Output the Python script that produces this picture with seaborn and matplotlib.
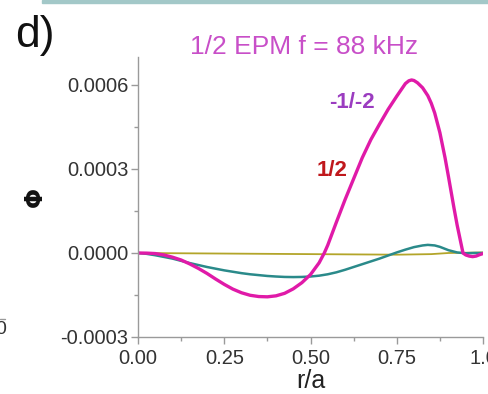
import numpy as np
import pandas as pd
import matplotlib
matplotlib.use("Agg")
import matplotlib.pyplot as plt
from matplotlib.ticker import MultipleLocator, FormatStrFormatter
import seaborn as sns

# ---- data (Phi in units of 1e-4) ----
r_mag = [0.0, 0.025, 0.05, 0.075, 0.1, 0.125, 0.15, 0.175, 0.2, 0.225, 0.25, 0.275,
         0.3, 0.325, 0.35, 0.375, 0.4, 0.425, 0.45, 0.475, 0.5, 0.525, 0.54, 0.55,
         0.575, 0.6, 0.625, 0.65, 0.675, 0.7, 0.725, 0.75, 0.775, 0.785, 0.793,
         0.8, 0.81, 0.825, 0.84, 0.85, 0.86, 0.875, 0.89, 0.9, 0.916, 0.925,
         0.942, 0.95, 0.96, 0.97, 0.98, 0.99, 1.0]
phi_mag = [0.0, -0.005, -0.02, -0.07, -0.15, -0.25, -0.39, -0.55, -0.73, -0.93,
           -1.12, -1.29, -1.42, -1.51, -1.555, -1.565, -1.53, -1.44, -1.28, -1.06,
           -0.77, -0.35, 0.0, 0.28, 1.1, 1.9, 2.65, 3.4, 4.05, 4.6, 5.13, 5.6,
           6.05, 6.15, 6.18, 6.16, 6.08, 5.9, 5.62, 5.35, 5.0, 4.3, 3.4, 2.72,
           1.6, 1.0, 0.0, -0.07, -0.11, -0.13, -0.11, -0.06, -0.02]

r_teal = [0.0, 0.025, 0.05, 0.075, 0.1, 0.125, 0.15, 0.175, 0.2, 0.225, 0.25, 0.275,
          0.3, 0.325, 0.35, 0.375, 0.4, 0.425, 0.45, 0.475, 0.5, 0.525, 0.55, 0.575,
          0.6, 0.625, 0.65, 0.675, 0.7, 0.725, 0.75, 0.775, 0.8, 0.825, 0.84, 0.86,
          0.875, 0.9, 0.925, 0.95, 0.975, 1.0]
phi_teal = [0.0, -0.03, -0.08, -0.14, -0.2, -0.28, -0.36, -0.43, -0.5, -0.56, -0.62,
            -0.67, -0.72, -0.76, -0.79, -0.82, -0.84, -0.855, -0.86, -0.855, -0.84,
            -0.81, -0.76, -0.69, -0.6, -0.5, -0.4, -0.3, -0.2, -0.09, 0.02, 0.12,
            0.21, 0.27, 0.29, 0.27, 0.22, 0.1, 0.02, -0.01, 0.0, 0.0]

r_olive = [0.0, 0.25, 0.5, 0.75, 0.85, 0.9, 1.0]
phi_olive = [0.0, -0.02, -0.04, -0.06, -0.04, 0.0, 0.02]

yticks = [-0.0003, 0.0, 0.0003, 0.0006]
xticks = [0.0, 0.25, 0.5, 0.75, 1.0]
xtick_labels = ["0.00", "0.25", "0.50", "0.75", "1.0"]
title = "1/2 EPM f = 88 kHz"

sns.set_style("ticks")
plt.rcParams['font.family'] = ['Liberation Sans', 'DejaVu Sans']

fig = plt.figure(figsize=(4.88, 3.94), dpi=100)
ax = fig.add_axes([138/488, (394-337)/394, (483-138)/488, (337-57)/394])

scale = 1e-4
sns.lineplot(x=r_olive, y=np.array(phi_olive) * scale, ax=ax, color="#b3a52a", lw=1.3)
sns.lineplot(x=r_teal, y=np.array(phi_teal) * scale, ax=ax, color="#2a8a8a", lw=1.8)
sns.lineplot(x=r_mag, y=np.array(phi_mag) * scale, ax=ax, color="#e01aa8", lw=2.4)

ax.set_xlim(0, 1.0)
ax.set_ylim(-0.0003, 0.0007)
ax.set_yticks(yticks)
ax.yaxis.set_major_formatter(FormatStrFormatter("%.4f"))
ax.set_xticks(xticks)
ax.set_xticklabels(xtick_labels)
ax.xaxis.set_minor_locator(MultipleLocator(0.125))
ax.yaxis.set_minor_locator(MultipleLocator(0.00015))
for s in ["top", "right"]:
    ax.spines[s].set_visible(False)
for s in ["left", "bottom"]:
    ax.spines[s].set_color("#9a9a9a")
    ax.spines[s].set_linewidth(1.0)
ax.tick_params(which="major", length=5, width=1, color="#9a9a9a",
               labelsize=14.5, labelcolor="#333333")
ax.tick_params(axis="x", which="major", pad=4)
ax.tick_params(axis="y", which="major", pad=2)
ax.tick_params(which="minor", length=3, width=1, color="#9a9a9a")
ax.set_xlabel("r/a", fontsize=18, color="#222222", labelpad=0)
ax.set_ylabel("Φ", fontsize=17, fontweight="bold", color="#111111",
              family=["DejaVu Sans"], labelpad=10)

ax.text(0.62, 5.36e-4, "-1/-2", color="#9b3cc0", fontsize=16, fontweight="bold",
        ha="center", va="center")
ax.text(0.562, 2.96e-4, "1/2", color="#c0181c", fontsize=16, fontweight="bold",
        ha="center", va="center")

fig.text(304/488, 1 - 47/394, title, color="#c84fc8", fontsize=19,
         ha="center", va="center")
fig.text(15/488, 1 - 36/394, "d)", color="#111111", fontsize=32,
         ha="left", va="center")
fig.patches.append(plt.Rectangle((42/488, 1 - 3/394), 1, 3/394,
                                 transform=fig.transFigure, color="#a3c8c8",
                                 zorder=5))
fig.text(6/488, 1 - 330/394, "0", color="#333333", fontsize=14,
         ha="right", va="center")
fig.lines.append(plt.Line2D([0, 5/488], [1 - 319/394, 1 - 319/394],
                            transform=fig.transFigure, color="#9a9a9a", lw=1))

fig.savefig("out.png", dpi=100)
